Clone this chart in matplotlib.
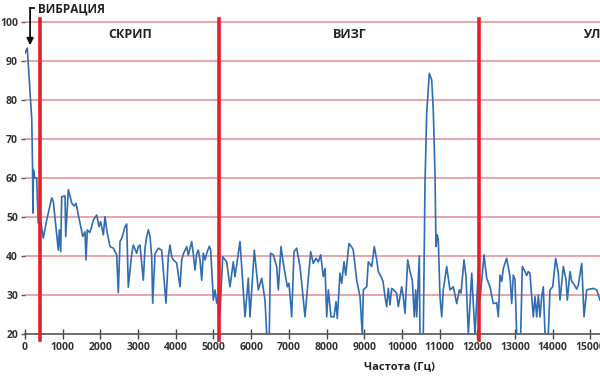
import matplotlib.pyplot as plt

# spectrum: frequency (Hz) and level
freq = [0, 60, 180, 200, 210, 225, 260, 310, 350, 400, 485, 576, 708, 751, 841, 883,
        910, 947, 973, 1061, 1080, 1149, 1239, 1300, 1353, 1531, 1592, 1618, 1653, 1716,
        1769, 1812, 1902, 1963, 2008, 2077, 2122, 2167, 2255, 2342, 2432, 2475, 2520, 2565,
        2653, 2698, 2740, 2830, 2873, 2963, 3005, 3050, 3138, 3183, 3228, 3271, 3316, 3361,
        3387, 3448, 3536, 3626, 3740, 3801, 3846, 3891, 3934, 4024, 4111, 4157, 4199, 4289,
        4332, 4422, 4464, 4509, 4554, 4597, 4642, 4687, 4730, 4775, 4820, 4889, 4926, 4995,
        5040, 5085, 5127, 5172, 5244, 5350, 5438, 5525, 5570, 5703, 5836, 5923, 5968, 6082,
        6188, 6278, 6366, 6411, 6480, 6512, 6586, 6676, 6719, 6790, 6852, 6958, 7003, 7074,
        7135, 7207, 7294, 7340, 7427, 7488, 7578, 7647, 7719, 7780, 7844, 7912, 7958, 8003,
        8045, 8117, 8196, 8249, 8284, 8355, 8400, 8462, 8507, 8594, 8666, 8708, 8798, 8886,
        8947, 8974, 9064, 9106, 9196, 9265, 9329, 9371, 9443, 9496, 9549, 9594, 9637, 9682,
        9727, 9814, 9859, 9902, 9992, 10034, 10080, 10151, 10212, 10273, 10326, 10363, 10390,
        10459, 10477, 10565, 10610, 10655, 10724, 10788, 10830, 10875, 10902, 10936, 10963,
        11008, 11053, 11095, 11185, 11273, 11361, 11451, 11520, 11565, 11645, 11698, 11759,
        11804, 11849, 11891, 11936, 12024, 12069, 12175, 12247, 12334, 12422, 12512, 12555,
        12600, 12645, 12687, 12777, 12865, 12910, 12952, 12997, 13042, 13149, 13191, 13263,
        13308, 13350, 13395, 13440, 13483, 13528, 13573, 13616, 13660, 13706, 13748, 13793,
        13881, 13926, 13997, 14077, 14146, 14191, 14279, 14350, 14385, 14456, 14501, 14544,
        14634, 14677, 14767, 14828, 14899, 14968, 15074, 15164, 15252]
level = [92, 93.3, 75, 62.5, 51, 62, 60, 60, 48.5, 50, 44.6, 49.2, 54.9, 54, 45.4, 41.5,
         46.7, 41.1, 55.2, 55.4, 45, 57, 53.6, 52.8, 53.5, 45, 46.2, 39, 46.7, 46,
         47.5, 49.2, 50.5, 47.5, 48.8, 45.4, 50.1, 46.7, 42.4, 42, 40.3, 30.6, 43.7, 44.5,
         47.5, 48.2, 32, 40.5, 42.8, 40.7, 42.4, 42.8, 33.8, 42, 45, 46.7, 45, 39.8,
         27.9, 40.5, 42, 41.5, 27.9, 39.8, 42.8, 39.8, 39, 38.2, 32.1, 39, 40.5, 42.4,
         40.2, 43.7, 40.5, 36.4, 40.5, 41.5, 39, 33.8, 40.7, 39, 40.7, 42.5, 41.5, 28.7,
         31.3, 27.9, 30, 25, 39.8, 38.5, 32.1, 38.5, 34.7, 43.7, 24.4, 34.3, 24.4, 41.5,
         31.3, 34.3, 28.7, 20, 20, 40.7, 40.3, 37.3, 31.3, 42.4, 38.1, 32.1, 33, 24.4,
         41.1, 42, 37.3, 33, 24.4, 31.3, 41.1, 38.1, 39.4, 38.5, 40.3, 34.7, 36.8, 24.4,
         31.3, 24.4, 24.4, 28.3, 24, 35.6, 33, 38.5, 35.1, 43.2, 42.3, 41.5, 33.8, 29.6,
         20, 31.3, 32.1, 38.5, 37.3, 42.4, 39, 36, 34.7, 33.5, 29.6, 27, 31.7, 27.5,
         31.7, 31, 30.4, 27, 32.1, 29.5, 25.3, 39, 36, 33.8, 24.4, 31.3, 24.4,
         40, 20, 20, 58.6, 76.6, 86.8, 85.1, 77.4, 61.2, 42.4, 45.4, 44.1,
         29.6, 24.4, 31.3, 37.3, 31.3, 32.1, 27.8, 31.3, 30.5, 39, 34.7, 20,
         28, 35.6, 27.8, 20, 36.4, 28.7, 40.3, 34.3, 32.1, 27.8, 28, 24.4,
         35.1, 33.5, 36.8, 39.4, 34.7, 27.8, 35.1, 34, 20, 20, 37.3, 36,
         35, 36, 35.5, 29.6, 24.4, 29.6, 24.4, 30, 24.4, 29.6, 32.1, 20,
         20, 31.3, 32.1, 39.4, 35.6, 28.7, 37.3, 34, 28.7, 36, 33.5, 33,
         31.5, 32.6, 38.1, 24.4, 31.3, 31.5, 31.7, 31.3, 28.7]

bands = [400, 5150, 12050]
band_names = ['СКРИП', 'ВИЗГ', 'УЛЬТРАЗВУК']
band_label_x = [2800, 8620, 14800]
y_grid = [30, 40, 50, 60, 70, 80, 90, 100]
x_ticks = list(range(0, 16000, 1000))

plt.rcParams['font.family'] = ['Open Sans', 'DejaVu Sans']
fig = plt.figure(figsize=(6, 3.76), dpi=100)
ax = fig.add_axes([25 / 600, 42 / 376, 575 / 600, 316 / 376])
ax.set_xlim(0, 15252)
ax.set_ylim(20, 101)

for y in y_grid:
    ax.axhline(y, color='#e58c95', lw=1.1, zorder=1)

ax.plot(freq, level, color='#2f6db4', lw=1.2, zorder=3, solid_joinstyle='round')

for b in bands:
    ax.plot([b, b], [18.4, 100.8], color='#e3202b', lw=2.6, zorder=4, clip_on=False)

for name, xp in zip(band_names, band_label_x):
    ha = 'left' if name == 'УЛЬТРАЗВУК' else 'center'
    ax.text(xp, 96.8, name, ha=ha, va='center', fontsize=9, fontweight='bold',
            color='#222222')

# vibration label with arrow
ax.text(340, 103.3, 'ВИБРАЦИЯ', ha='left', va='center', fontsize=8.5,
        fontweight='bold', color='#222222', clip_on=False)
ax.plot([240, 135], [103.6, 103.6], color='#111111', lw=1.3, clip_on=False)
ax.annotate('', xy=(135, 94.0), xytext=(135, 103.6), xycoords='data',
            arrowprops=dict(arrowstyle='-|>', color='#111111', lw=1.3,
                            mutation_scale=10, shrinkA=0, shrinkB=0),
            annotation_clip=False)

for s in ['top', 'right', 'left']:
    ax.spines[s].set_visible(False)
ax.spines['bottom'].set_color('#555555')
ax.spines['bottom'].set_linewidth(1.2)

ax.set_xticks(x_ticks)
ax.set_xticklabels([str(t) for t in x_ticks])
ax.set_yticks([20] + y_grid)
ax.tick_params(axis='x', direction='inout', length=7, width=1, color='#444444',
               labelsize=7.5, labelcolor='#333333', pad=2)
ax.tick_params(axis='y', direction='out', length=3, width=1, color='#555555',
               labelsize=7.5, labelcolor='#333333', pad=2)
for lab in ax.get_xticklabels() + ax.get_yticklabels():
    lab.set_fontweight('bold')

fig.text(400 / 600, 1 - 367 / 376, 'Частота (Гц)', ha='center', va='center',
         fontsize=8, fontweight='bold', color='#222222')

fig.savefig('out.png', dpi=100)
